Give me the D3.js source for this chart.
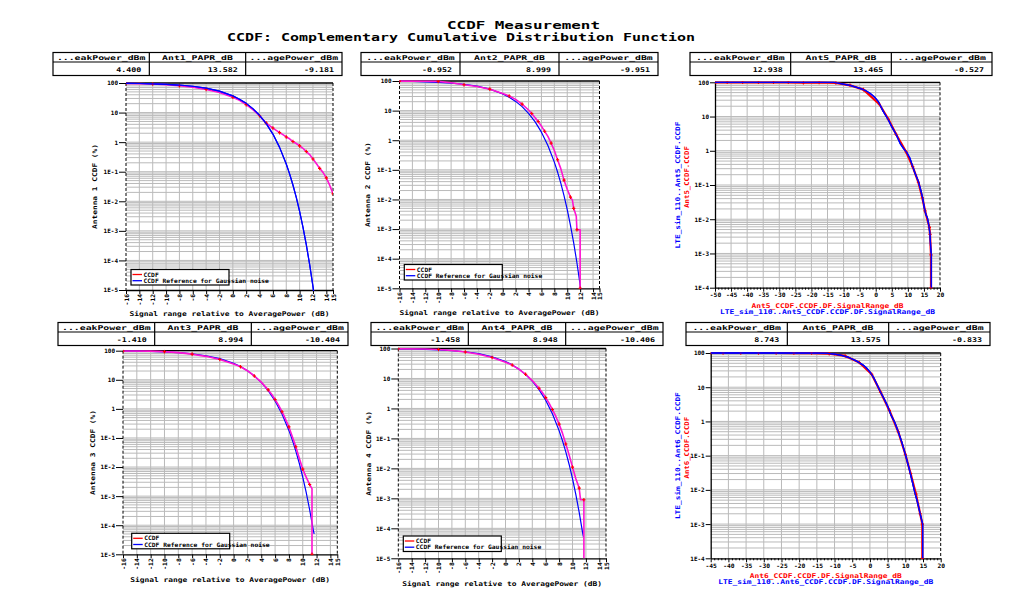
<!DOCTYPE html>
<html><head><meta charset="utf-8">
<script src="https://cdn.jsdelivr.net/npm/d3@7"></script>
<style>
body{margin:0;background:#fff}
text{font-family:"DejaVu Sans Mono",monospace;font-weight:bold;fill:#000}
</style>
</head><body>
<svg id="c" width="1026" height="615"></svg>
<script>
// ---------------- DATA ----------------
const titleMain = "CCDF Measurement";
const titleSub = "CCDF: Complementary Cumulative Distribution Function";

const leftXTicks = [-16,-14,-12,-10,-8,-6,-4,-2,0,2,4,6,8,10,12,14,15];
const rightXTicksA = [-50,-45,-40,-35,-30,-25,-20,-15,-10,-5,0,5,10,15,20];
const rightXTicksB = [-45,-40,-35,-30,-25,-20,-15,-10,-5,0,5,10,15,20];
const yTicksLeft = [100,10,1,0.1,0.01,0.001,0.0001,0.00001];
const yTickLabelsLeft = ["100","10","1","1E-1","1E-2","1E-3","1E-4","1E-5"];
const yTicksRight = [100,10,1,0.1,0.01,0.001,0.0001];
const yTickLabelsRight = ["100","10","1","1E-1","1E-2","1E-3","1E-4"];

const tableHeadPeak = "...eakPower_dBm";
const tableHeadAvg = "...agePower_dBm";
const paprNames = ["Ant1_PAPR_dB","Ant2_PAPR_dB","Ant5_PAPR_dB","Ant3_PAPR_dB","Ant4_PAPR_dB","Ant6_PAPR_dB"];
const peakPower = ["4.400","-0.952","12.938","-1.410","-1.458","8.743"];
const paprValues = ["13.582","8.999","13.465","8.994","8.948","13.575"];
const avgPower = ["-9.181","-9.951","-0.527","-10.404","-10.406","-0.833"];

const yTitlesLeft = ["Antenna 1 CCDF (%)","Antenna 2 CCDF (%)","Antenna 3 CCDF (%)","Antenna 4 CCDF (%)"];
const xTitleLeft = "Signal range relative to AveragePower (dB)";
const legendLabels = ["CCDF","CCDF Reference for Gaussian noise"];

// Gaussian noise reference (CCDF %, x in dB)
const gaussRefA = [[-16,97.5],[-14,96.1],[-12,93.9],[-10,90.5],[-8,85.4],[-6,77.8],[-4,67.2],[-2,53.2],[0,36.8],[1,28.4],[2,20.5],[3,13.6],[4,8.11],[5,4.23],[6,1.87],[7,0.666],[8,0.182],[8.5,0.0842],[9,0.0355],[9.5,0.0135],[10,0.00454],[10.5,0.00134],[11,0.00034],[11.5,0.000073],[12,0.0000131],[12.1,0.000009]];
const gaussRefB = [[-16,97.5],[-14,96.1],[-12,93.9],[-10,90.5],[-8,85.4],[-6,77.8],[-4,67.2],[-2,53.2],[0,36.8],[1,28.4],[2,20.5],[3,13.6],[4,8.11],[5,4.23],[6,1.87],[7,0.666],[8,0.182],[8.5,0.0842],[9,0.0355],[9.5,0.0135],[10,0.00454],[10.5,0.00134],[11,0.00034],[11.5,0.000073],[11.65,0.00005]];

const ant1Ccdf = [[-16,96],[-14,95],[-12,92],[-10,88],[-8,81],[-6,72],[-4,61],[-2,48],[0,33],[1,26],[2,18.5],[3,12.5],[4,7.8],[4.5,5.8],[5,4.4],[5.5,3.6],[6,3.0],[6.5,2.5],[7,2.1],[7.5,1.8],[8,1.5],[8.5,1.3],[9,1.05],[9.5,0.9],[10,0.75],[10.5,0.62],[11,0.48],[11.5,0.38],[12,0.27],[12.5,0.19],[13,0.13],[13.5,0.095],[14,0.062],[14.5,0.035],[15,0.018]];
const ant2Ccdf = [[-16,99],[-12,98],[-10,97],[-8,87],[-6,75],[-4,65],[-2,53],[0,38],[1,31],[2,24],[3,16.5],[4,10.5],[4.5,8],[5,5.8],[5.5,4.3],[6,3.0],[6.5,2],[7,1.35],[7.5,0.8],[8,0.45],[8.5,0.22],[9,0.11],[9.5,0.045],[10,0.022],[10.5,0.012],[10.8,0.0095],[11,0.005],[11.4,0.0027],[11.5,0.00095],[12,0.00095],[12,0.00001]];
const ant3Ccdf = [[-16,98],[-12,96.5],[-10,93],[-8,86],[-6,76],[-4,64],[-2,50],[0,35],[1,28],[2,20.5],[3,13.5],[4,8.3],[5,4.5],[5.5,3.2],[6,2.1],[6.5,1.35],[7,0.8],[7.5,0.45],[8,0.24],[8.5,0.11],[9,0.05],[9.5,0.02],[10,0.0085],[10.5,0.0045],[11,0.0025],[11.34,0.0018],[11.34,0.00001]];
const ant4Ccdf = [[-16,98],[-12,96.5],[-10,93],[-8,86],[-6,76],[-4,64],[-2,50],[0,35],[1,28],[2,20.5],[3,13.8],[4,8.5],[5,4.7],[5.5,3.4],[6,2.3],[6.5,1.5],[7,0.92],[7.5,0.55],[8,0.3],[8.5,0.15],[9,0.065],[9.5,0.028],[10,0.011],[10.5,0.0045],[11,0.0022],[11.2,0.0009],[11.7,0.0009],[11.7,0.00001]];

// Right panels: measured (red) and LTE_sim reference (blue)
const ant5Ccdf = [[-50,100],[-46.2,100],[-41.4,100],[-36.5,100],[-31.8,100],[-27.2,100],[-22.5,98],[-17.6,99],[-12.4,96],[-8,81.7],[-3.8,61],[1.14,22.8],[3.94,8.3],[6.33,3.03],[9.44,0.94],[11.5,0.344],[13.28,0.12],[14.5,0.0425],[15.35,0.0175],[16.7,0.0058],[16.9,0.0036],[17.2,0.00091],[17.2,0.0001]];
const ant5Sim = [[-50,100],[-13,99.5],[-12.14,95.6],[-7.99,81.7],[-4.88,66.8],[-3.32,58.4],[-1.77,47.8],[-0.21,35.7],[0.83,27.2],[1.35,21.8],[2.38,13.9],[3.94,7.94],[4.98,5.07],[6.33,3.03],[7.57,1.65],[8.61,1.18],[9.65,0.9],[10.68,0.6],[11.51,0.344],[12.24,0.22],[13.28,0.126],[14.0,0.0716],[14.62,0.041],[15.14,0.0209],[15.66,0.0133],[16.07,0.0111],[16.59,0.0061],[16.9,0.00347],[17.11,0.00142],[17.32,0.00091],[17.32,0.0001]];
const ant6Ccdf = [[-45,100],[-41.5,100],[-36.5,100],[-31.5,100],[-26.5,100],[-21.5,99.8],[-16.5,99.8],[-11.5,96],[-7,82],[-3,53],[0.5,24],[3,7.2],[5.5,2.1],[8,0.5],[10,0.11],[11.5,0.03],[13,0.0075],[14.2,0.002],[14.8,0.001],[14.8,0.0001]];
const ant6Sim = [[-45,100],[-15,99.8],[-12,97],[-10,93],[-8,85],[-6,74],[-4,60],[-2,45],[-1,37],[0,28],[1,19.5],[2,12],[3,7.2],[4,4.6],[5,2.8],[6,1.5],[7,0.95],[8,0.5],[9,0.25],[10,0.11],[11,0.045],[12,0.017],[12.6,0.009],[13.4,0.0045],[14.2,0.002],[14.9,0.001],[14.9,0.0001]];

// ---------------- LAYOUT ----------------
const svg = d3.select("#c");
const defs = svg.append("defs");

function label(parent, s, x, y, o = {}) {
  const size = o.size || 6.5, per = o.per || 4.7;
  const t = parent.append("text")
    .attr("font-size", size)
    .attr("text-anchor", o.anchor || "middle")
    .attr("textLength", s.length * per)
    .attr("lengthAdjust", "spacingAndGlyphs")
    .text(s);
  if (o.color) t.style("fill", o.color);
  if (o.rotate) t.attr("transform", `translate(${x},${y}) rotate(-90)`);
  else t.attr("x", x).attr("y", y);
  return t;
}

// titles
label(svg, titleMain, 523.5, 28.5, {size: 11, per: 9.56});
label(svg, titleSub, 461, 40.5, {size: 11, per: 9.0});

function drawTable(tb, idx) {
  const g = svg.append("g");
  const cw = tb.w / 3;
  const rows = [tb.y, tb.y + 9.5, tb.y + 23];
  g.append("rect").attr("x", tb.x).attr("y", tb.y).attr("width", tb.w).attr("height", 23)
    .attr("fill", "none").attr("stroke", "#000").attr("stroke-width", 1.2);
  g.append("line").attr("x1", tb.x).attr("x2", tb.x + tb.w).attr("y1", rows[1]).attr("y2", rows[1]).attr("stroke", "#000").attr("stroke-width", 1.2);
  [1, 2].forEach(k => g.append("line").attr("x1", tb.x + k * cw).attr("x2", tb.x + k * cw)
    .attr("y1", tb.y).attr("y2", tb.y + 23).attr("stroke", "#000").attr("stroke-width", 1.2));
  const heads = [tableHeadPeak, paprNames[idx], tableHeadAvg];
  const vals = [peakPower[idx], paprValues[idx], avgPower[idx]];
  heads.forEach((h, k) => label(g, h, tb.x + k * cw + cw / 2, tb.y + 7.6, {size: 6.5, per: 5.9}));
  vals.forEach((v, k) => label(g, v, tb.x + (k + 1) * cw - 8, tb.y + 19.3, {size: 6.5, per: 5.0, anchor: "end"}));
}

let clipN = 0;
function drawPanel(p) {
  const g = svg.append("g");
  const x = d3.scaleLinear().domain(p.xDomain).range([p.l, p.r]);
  const y = d3.scaleLog().domain(p.yDomain).range([p.b, p.t]);
  const id = "clip" + (clipN++);
  defs.append("clipPath").attr("id", id).append("rect")
    .attr("x", p.l).attr("y", p.t - 1).attr("width", p.r - p.l).attr("height", p.b - p.t + 2);

  // horizontal log grid
  const grid = [];
  const d0 = Math.round(Math.log10(p.yDomain[0]));
  for (let d = d0; d < 2; d++) for (let k = 1; k <= 9; k++) {
    const v = k * Math.pow(10, d);
    if (v > p.yDomain[0] * 1.0001 && v < 99.99) grid.push(v);
  }
  g.append("g").selectAll("line").data(grid).join("line")
    .attr("x1", p.l).attr("x2", p.r).attr("y1", d => y(d)).attr("y2", d => y(d))
    .attr("stroke", "#bababa").attr("stroke-width", 1);
  // vertical grid
  const vg = p.xTicks.filter(v => v > p.xDomain[0] && v < p.xDomain[1]);
  g.append("g").selectAll("line").data(vg).join("line")
    .attr("x1", d => x(d)).attr("x2", d => x(d)).attr("y1", p.t).attr("y2", p.b)
    .attr("stroke", "#bababa").attr("stroke-width", 1);

  // frame
  g.append("line").attr("x1", p.l).attr("x2", p.r).attr("y1", p.t).attr("y2", p.t).attr("stroke", "#000").attr("stroke-width", 1.3);
  g.append("line").attr("x1", p.r).attr("x2", p.r).attr("y1", p.t).attr("y2", p.b).attr("stroke", "#000").attr("stroke-width", 1).attr("stroke-dasharray", "3,2");
  if (!p.right) g.append("line").attr("x1", p.l).attr("x2", p.l).attr("y1", p.t).attr("y2", p.b).attr("stroke", "#000").attr("stroke-width", 1).attr("stroke-dasharray", "3,2");

  // x axis
  const xa = g.append("g").attr("transform", `translate(0,${p.b})`)
    .call(d3.axisBottom(x).tickValues(p.xTicks).tickSize(4).tickSizeOuter(0).tickFormat(d => d3.format("d")(d).replace("−", "-")));
  xa.select(".domain").attr("stroke", "#000").attr("stroke-width", 1.3);
  xa.selectAll(".tick line").attr("stroke", "#000").attr("stroke-width", 1);
  xa.selectAll("text").attr("font-size", 6).attr("lengthAdjust", "spacingAndGlyphs")
    .attr("textLength", function () { return this.textContent.length * 3.8; });
  if (!p.right) {
    xa.selectAll("text").attr("transform", "rotate(-90)").attr("text-anchor", "end")
      .attr("x", -4).attr("y", 2).attr("dy", 0);
  } else {
    xa.selectAll("text").attr("y", 9.5).attr("dy", 0);
    const minors = d3.range(p.xDomain[0], p.xDomain[1] + 0.5, 1).filter(v => v % 5 !== 0);
    g.append("g").attr("transform", `translate(0,${p.b})`)
      .call(d3.axisBottom(x).tickValues(minors).tickSize(2).tickSizeOuter(0).tickFormat(""))
      .call(s => s.select(".domain").remove())
      .selectAll(".tick line").attr("stroke", "#000");
  }

  // y axis
  const ya = g.append("g").attr("transform", `translate(${p.l},0)`)
    .call(d3.axisLeft(y).tickValues(p.yTicks).tickSize(p.right ? 5 : 7).tickPadding(1).tickSizeOuter(0)
      .tickFormat((d, i) => p.yLabels[i]));
  ya.select(".domain").attr("stroke", "#000").attr("stroke-width", p.right ? 1.3 : 0);
  ya.selectAll(".tick line").attr("stroke", "#000").attr("stroke-width", 1);
  ya.selectAll("text").attr("font-size", 6).attr("lengthAdjust", "spacingAndGlyphs")
    .attr("textLength", function () { return this.textContent.length * 3.6; });

  const line = d3.line().x(d => x(d[0])).y(d => y(Math.max(d[1], p.yDomain[0] * 0.5)));
  const cg = g.append("g").attr("clip-path", `url(#${id})`);
  p.series.forEach(s => {
    cg.append("path").datum(s.data).attr("d", line).attr("fill", "none")
      .attr("stroke", s.color).attr("stroke-width", s.width).attr("stroke-linejoin", "round");
  });
  p.series.filter(s => s.markers).forEach(s => {
    cg.append("g").selectAll("path").data(s.data.filter((d, i) => i % s.markers === 0 && d[1] >= p.yDomain[0]))
      .join("path").attr("transform", d => `translate(${x(d[0])},${y(d[1])})`)
      .attr("d", "M-1.6,0H1.6M0,-1.8V1.8").attr("stroke", "#ff0000").attr("stroke-width", 1.1);
  });
  p.series.filter(s => s.top).forEach(s => {
    cg.append("path").datum(s.data).attr("d", line).attr("fill", "none")
      .attr("stroke", s.color).attr("stroke-width", s.width).attr("stroke-linejoin", "round");
  });

  // axis titles
  if (!p.right) {
    label(svg, p.yTitle, p.yTitleX, (p.t + p.b) / 2, {rotate: true, size: 6.5, per: 4.72});
    label(svg, xTitleLeft, (p.l + p.r) / 2, p.xTitleY, {size: 6.5, per: 4.76});
    // legend
    const L = p.legend;
    const lg = svg.append("g");
    lg.append("rect").attr("x", L.x).attr("y", L.y).attr("width", 98).attr("height", 15.5)
      .attr("fill", "#fff").attr("stroke", "#000").attr("stroke-width", 1.2);
    [["#ff0000", legendLabels[0]], ["#0000ff", legendLabels[1]]].forEach((r, i) => {
      const yy = L.y + 5 + i * 6.2;
      lg.append("line").attr("x1", L.x + 1.5).attr("x2", L.x + 11).attr("y1", yy).attr("y2", yy)
        .attr("stroke", r[0]).attr("stroke-width", 1.3);
      label(lg, r[1], L.x + 12.5, yy + 2, {anchor: "start", size: 6, per: 3.8});
    });
  } else {
    const cx = (p.l + p.r) / 2;
    label(svg, p.xTitleRed, cx, p.xTitleY, {size: 6.5, per: 4.75, color: "#ff0000"});
    label(svg, p.xTitleBlue, cx, p.xTitleY + 6.5, {size: 6.5, per: 4.78, color: "#0000ff"});
    const cy = (p.t + p.b) / 2;
    label(svg, p.yTitleBlue, 680, cy, {rotate: true, size: 6.5, per: 4.7, color: "#0000ff"});
    label(svg, p.yTitleRed, 688.5, cy - 8, {rotate: true, size: 6.5, per: 4.4, color: "#ff0000"});
  }
}

const MAG = "#ff14d2";
// tables
drawTable({x: 53, y: 52.5, w: 289}, 0);
drawTable({x: 361, y: 52.5, w: 297}, 1);
drawTable({x: 690, y: 52.5, w: 302}, 2);
drawTable({x: 58, y: 322.5, w: 290}, 3);
drawTable({x: 371, y: 322.5, w: 292}, 4);
drawTable({x: 686, y: 322.5, w: 304}, 5);

drawPanel({l: 126, r: 333, t: 83, b: 290, xDomain: [-16, 15], yDomain: [1e-5, 100],
  xTicks: leftXTicks, yTicks: yTicksLeft, yLabels: yTickLabelsLeft,
  yTitle: yTitlesLeft[0], yTitleX: 96.5, xTitleY: 316,
  legend: {x: 131, y: 269.5},
  series: [{data: ant1Ccdf, color: MAG, width: 1.6, markers: 2}, {data: gaussRefA, color: "#0000ff", width: 1.2, top: true}]});
drawPanel({l: 399.5, r: 599.5, t: 81, b: 288.3, xDomain: [-16, 15], yDomain: [1e-5, 100],
  xTicks: leftXTicks, yTicks: yTicksLeft, yLabels: yTickLabelsLeft,
  yTitle: yTitlesLeft[1], yTitleX: 369.5, xTitleY: 314.5,
  legend: {x: 404.3, y: 264.5},
  series: [{data: gaussRefA, color: "#0000ff", width: 1.2}, {data: ant2Ccdf, color: MAG, width: 1.6, markers: 2}]});
drawPanel({l: 715, r: 940, t: 82.3, b: 287.7, xDomain: [-50, 20], yDomain: [1e-4, 100], right: true,
  xTicks: rightXTicksA, yTicks: yTicksRight, yLabels: yTickLabelsRight,
  xTitleRed: "Ant5_CCDF.CCDF.DF.SignalRange_dB", xTitleBlue: "LTE_sim_110..Ant5_CCDF.CCDF.DF.SignalRange_dB", xTitleY: 307.5,
  yTitleBlue: "LTE_sim_110..Ant5_CCDF.CCDF", yTitleRed: "Ant5_CCDF.CCDF",
  series: [{data: ant5Ccdf, color: "#ff0000", width: 2.2, markers: 1}, {data: ant5Sim, color: "#0000ff", width: 1.3, top: true}]});
drawPanel({l: 123, r: 337.3, t: 350.7, b: 554.3, xDomain: [-16, 15], yDomain: [1e-5, 100],
  xTicks: leftXTicks, yTicks: yTicksLeft, yLabels: yTickLabelsLeft,
  yTitle: yTitlesLeft[2], yTitleX: 95, xTitleY: 581.5,
  legend: {x: 131.7, y: 533.3},
  series: [{data: gaussRefB, color: "#0000ff", width: 1.2}, {data: ant3Ccdf, color: MAG, width: 1.6, markers: 2}]});
drawPanel({l: 398.3, r: 606, t: 348.5, b: 558.3, xDomain: [-16, 15], yDomain: [1e-5, 100],
  xTicks: leftXTicks, yTicks: yTicksLeft, yLabels: yTickLabelsLeft,
  yTitle: yTitlesLeft[3], yTitleX: 371, xTitleY: 586,
  legend: {x: 403.3, y: 536},
  series: [{data: gaussRefB, color: "#0000ff", width: 1.2}, {data: ant4Ccdf, color: MAG, width: 1.6, markers: 2}]});
drawPanel({l: 710.7, r: 940.7, t: 353, b: 558.3, xDomain: [-45, 20], yDomain: [1e-4, 100], right: true,
  xTicks: rightXTicksB, yTicks: yTicksRight, yLabels: yTickLabelsRight,
  xTitleRed: "Ant6_CCDF.CCDF.DF.SignalRange_dB", xTitleBlue: "LTE_sim_110..Ant6_CCDF.CCDF.DF.SignalRange_dB", xTitleY: 577.5,
  yTitleBlue: "LTE_sim_110..Ant6_CCDF.CCDF", yTitleRed: "Ant6_CCDF.CCDF",
  series: [{data: ant6Ccdf, color: "#ff0000", width: 2.2, markers: 1}, {data: ant6Sim, color: "#0000ff", width: 1.3, top: true}]});
</script>
</body></html>
